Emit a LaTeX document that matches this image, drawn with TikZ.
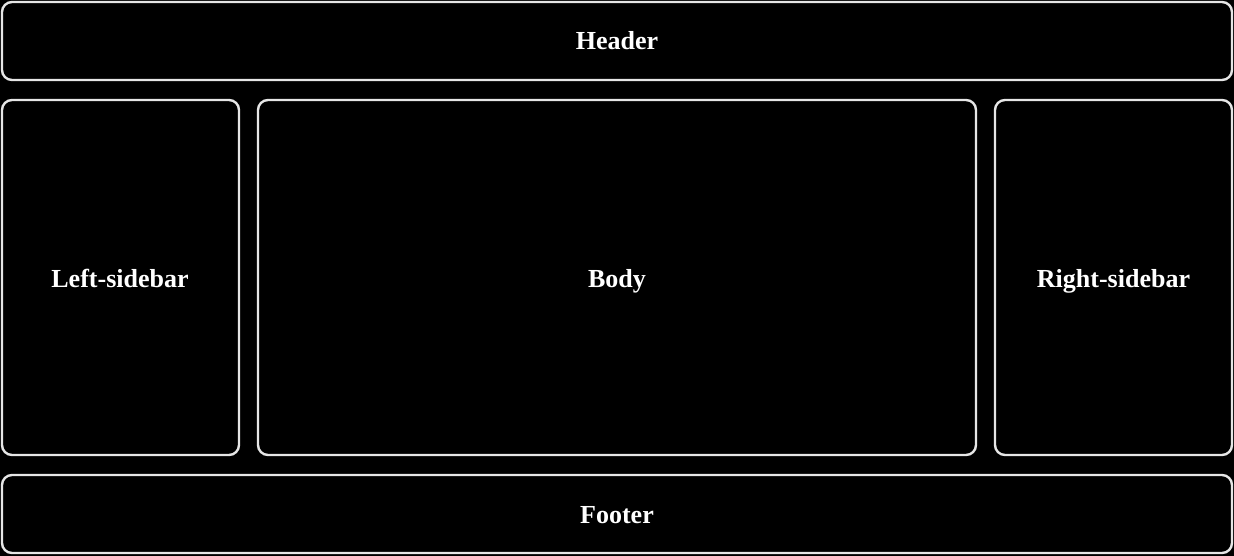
\documentclass[tikz,border=0pt]{standalone}
\usepackage{fontspec}
\setmainfont{Liberation Serif}
\definecolor{edge}{HTML}{E6E6E6}
\begin{document}
\begin{tikzpicture}[x=1pt,y=-1pt,
  panel/.style={draw=edge, line width=2.4pt, rounded corners=10pt, fill=black},
  lbl/.style={text=white, anchor=base, inner sep=0pt, font=\fontsize{26}{30}\selectfont\bfseries}]
\fill[black] (0,0) rectangle (1234,556);
\useasboundingbox (0,0) rectangle (1234,556);
\draw[panel] (2,2) rectangle (1232,80);
\node[lbl] (header) at (617,50) {Header};
\draw[panel] (2,100) rectangle (239,455);
\node[lbl] (left) at (120,287) {Left-sidebar};
\draw[panel] (258,100) rectangle (976,455);
\node[lbl] (body) at (617,287) {Body};
\draw[panel] (995,100) rectangle (1232,455);
\node[lbl] (right) at (1113.5,287) {Right-sidebar};
\draw[panel] (2,475) rectangle (1232,553);
\node[lbl] (footer) at (617,523) {Footer};
\end{tikzpicture}
\end{document}
